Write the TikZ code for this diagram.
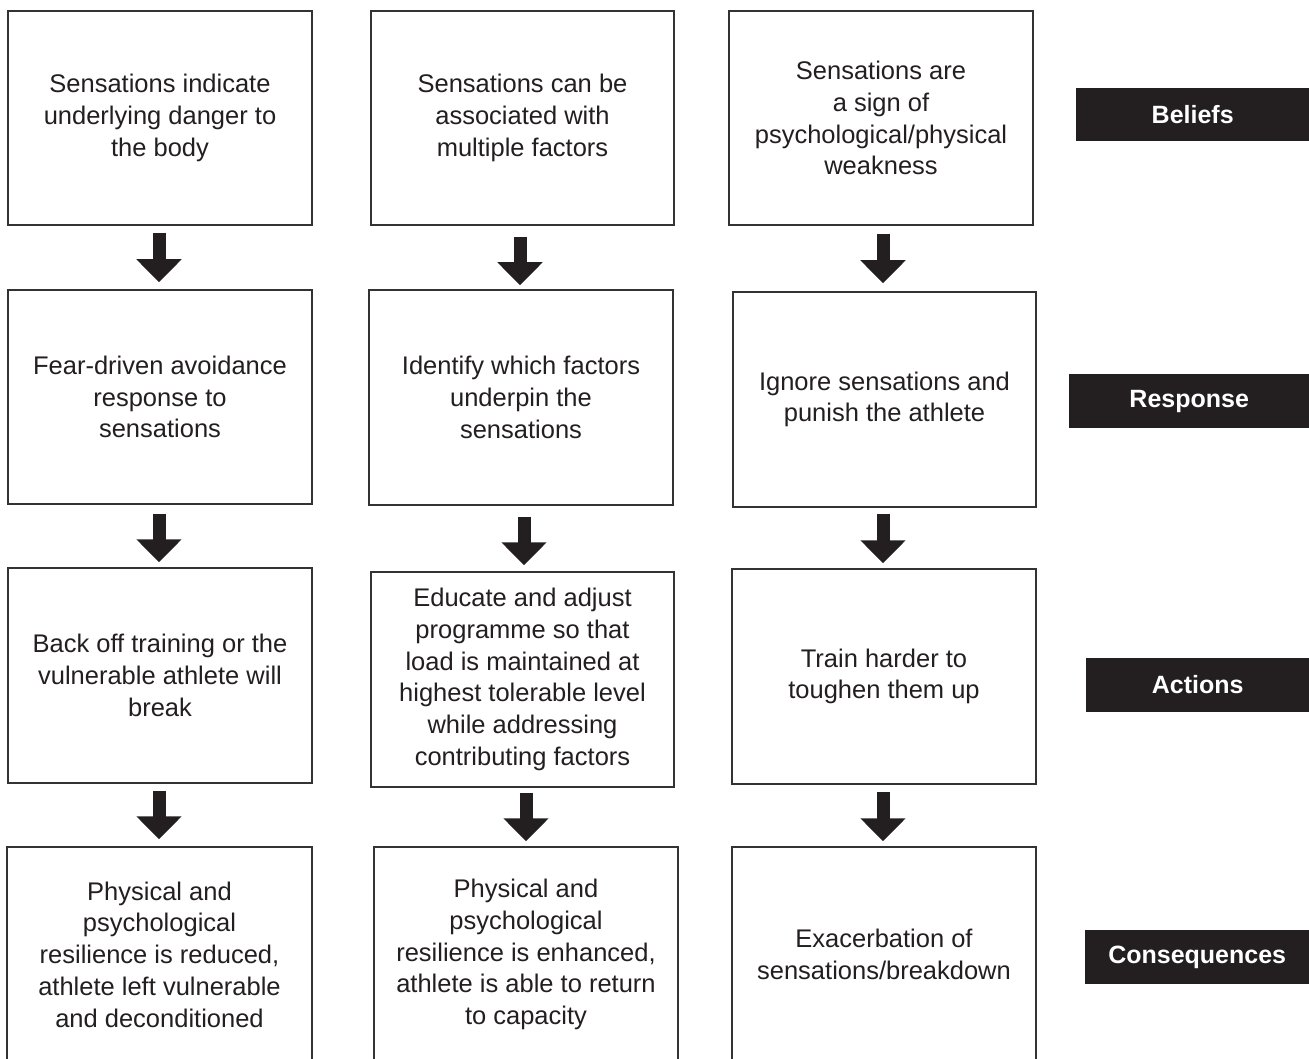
\documentclass[tikz,border=0pt]{standalone}
\usepackage{fontspec}
\setmainfont{Liberation Sans}
\usetikzlibrary{arrows.meta,calc}
\definecolor{ink}{HTML}{231F20}
\definecolor{edge}{HTML}{333333}
\begin{document}
\begin{tikzpicture}[x=1pt,y=-1pt,
  box/.style={draw=edge, line width=1.5pt, text=ink, align=center, inner sep=0pt,
    minimum width=304pt, minimum height=214pt, font=\fontsize{25.5}{31.8}\selectfont},
  tag/.style={fill=ink, text=white, font=\bfseries\fontsize{25}{30}\selectfont,
    inner sep=0pt, minimum height=54pt, anchor=west},
  blk/.style={draw=ink, line width=13pt, -{Triangle[width=44pt,length=23pt,fill=ink]}}]
\useasboundingbox (0,0) rectangle (1309,1059);
\fill[white] (0,0) rectangle (1309,1059);
% row 1
\node[box] (a1) at (160,118) {Sensations indicate\\underlying danger to\\the body};
\node[box, minimum width=303pt] (a2) at (522.5,118) {Sensations can be\\associated with\\multiple factors};
\node[box] (a3) at (881,118) {Sensations are\\a sign of\\psychological/physical\\weakness};
% row 2
\node[box] (b1) at (160,397) {Fear-driven avoidance\\response to\\sensations};
\node[box, minimum height=215pt] (b2) at (521,397.5) {Identify which factors\\underpin the\\sensations};
\node[box, minimum width=303pt, minimum height=215pt] (b3) at (884.5,399.5) {Ignore sensations and\\punish the athlete};
% row 3
\node[box, minimum height=215pt] (c1) at (160,675.5) {Back off training or the\\vulnerable athlete will\\break};
\node[box, minimum width=303pt, minimum height=215pt] (c2) at (522.5,679.5) {Educate and adjust\\programme so that\\load is maintained at\\highest tolerable level\\while addressing\\contributing factors};
\node[box, minimum height=215pt] (c3) at (884,676.5) {Train harder to\\toughen them up};
% row 4
\node[box, minimum width=305pt, minimum height=215pt] (d1) at (159.5,954.5) {Physical and\\psychological\\resilience is reduced,\\athlete left vulnerable\\and deconditioned};
\node[box, minimum height=215pt] (d2) at (526,954.5) {Physical and\\psychological\\resilience is enhanced,\\athlete is able to return\\to capacity};
\node[box, minimum height=215pt] (d3) at (884,954.5) {Exacerbation of\\sensations/breakdown};
% tags
\node[tag, minimum width=233pt, minimum height=53pt] (t1) at (1076,114.5) {Beliefs};
\node[tag, minimum width=240pt] (t2) at (1069,401) {Response};
\node[tag, minimum width=223pt] (t3) at (1086,685) {Actions};
\node[tag, minimum width=224pt] (t4) at (1085,957) {Consequences};
% arrows row1 -> row2
\draw[blk] ($(a1.south)+(-1,7)$) -- ($(b1.north)+(-1,-7)$);
\draw[blk] ($(a2.south)+(-2.5,11)$) -- ($(b2.north)+(-1,-4)$);
\draw[blk] ($(a3.south)+(2,8)$) -- ($(b3.north)+(-1.5,-8)$);
% arrows row2 -> row3
\draw[blk] ($(b1.south)+(-1,9)$) -- ($(c1.north)+(-1,-5)$);
\draw[blk] ($(b2.south)+(3,11)$) -- ($(c2.north)+(1.5,-6)$);
\draw[blk] ($(b3.south)+(-1.5,6)$) -- ($(c3.north)+(-1,-5)$);
% arrows row3 -> row4
\draw[blk] ($(c1.south)+(-1,7)$) -- ($(d1.north)+(-0.5,-7)$);
\draw[blk] ($(c2.south)+(3.5,5)$) -- ($(d2.north)+(0,-5)$);
\draw[blk] ($(c3.south)+(-1,7)$) -- ($(d3.north)+(-1,-5)$);
\end{tikzpicture}
\end{document}
